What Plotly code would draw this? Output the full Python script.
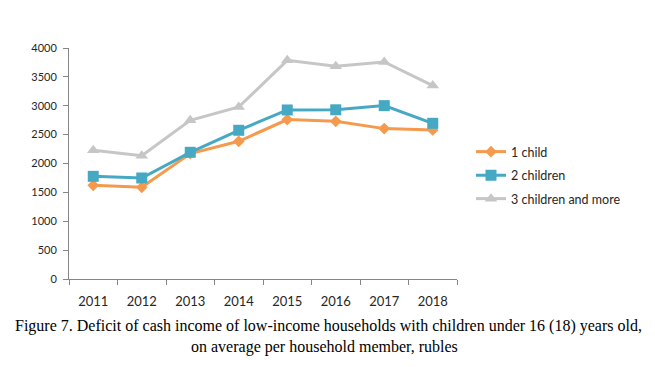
import plotly.graph_objects as go

years = ["2011", "2012", "2013", "2014", "2015", "2016", "2017", "2018"]
one_child = [1622, 1588, 2171, 2384, 2760, 2730, 2604, 2580]
two_children = [1778, 1749, 2194, 2575, 2927, 2930, 3002, 2696]
three_more = [2229, 2136, 2748, 2978, 3787, 3683, 3758, 3349]
series_names = ["1 child", "2 children", "3 children and more"]
y_ticks = [0, 500, 1000, 1500, 2000, 2500, 3000, 3500, 4000]
caption1 = "Figure 7. Deficit of cash income of low-income households with children under 16 (18) years old,"
caption2 = "on average per household member, rubles"

OFF = 8  # page body margin
W, H = 655 - OFF, 367 - OFF
L, R, T, B = 69 - OFF, 457 - OFF, 48 - OFF, 279 - OFF
ph = B - T
pw = R - L

def py(p):
    return (B - (p - OFF)) / ph

def px(p):
    return ((p - OFF) - L) / pw

FONT = "Lato"
colors = ["#F59A4C", "#45A9C4", "#C6C6C6"]
symbols = ["diamond", "square", "triangle-up"]
sizes = [9, 11, 11]
data = [one_child, two_children, three_more]
legends = ["legend", "legend2", "legend3"]
leg_y = [152, 175.5, 199]

fig = go.Figure()
for i in range(3):
    fig.add_trace(go.Scatter(
        x=years, y=data[i], name=series_names[i], mode="lines+markers",
        line=dict(color=colors[i], width=3),
        marker=dict(symbol=symbols[i], size=sizes[i], color=colors[i],
                    line=dict(width=0)),
        legend=legends[i],
    ))

layout_legends = {}
for i in range(3):
    layout_legends[legends[i]] = dict(
        x=px(471), y=py(leg_y[i]), xanchor="left", yanchor="middle",
        bgcolor="rgba(0,0,0,0)", borderwidth=0,
        font=dict(family=FONT, size=12.5, color="#262626"),
        itemwidth=30,
    )

fig.update_layout(
    width=W, height=H,
    margin=dict(l=L, r=W - R, t=T, b=H - B),
    paper_bgcolor="white", plot_bgcolor="white",
    showlegend=True,
    **layout_legends,
    xaxis=dict(
        type="category", tickson="boundaries", ticks="outside", ticklen=5,
        tickcolor="#868686", showline=True, linecolor="#868686", linewidth=1,
        showgrid=False, tickfont=dict(family=FONT, size=13, color="#262626"),
        ticklabelstandoff=10, range=[-0.5, 7.5],
    ),
    yaxis=dict(
        range=[0, 4000], tickvals=y_ticks, ticks="outside", ticklen=5,
        tickcolor="#868686", showline=True, linecolor="#868686", linewidth=1,
        showgrid=False, zeroline=False,
        tickfont=dict(family=FONT, size=11, color="#262626"),
        ticklabelstandoff=4,
    ),
    annotations=[
        dict(text=caption1, xref="paper", yref="paper", x=px(328), y=py(326),
             xanchor="center", yanchor="middle", showarrow=False,
             font=dict(family="Liberation Serif", size=16, color="black")),
        dict(text=caption2, xref="paper", yref="paper", x=px(324), y=py(346.5),
             xanchor="center", yanchor="middle", showarrow=False,
             font=dict(family="Liberation Serif", size=16, color="black")),
    ],
)

fig.write_html("out.html")
